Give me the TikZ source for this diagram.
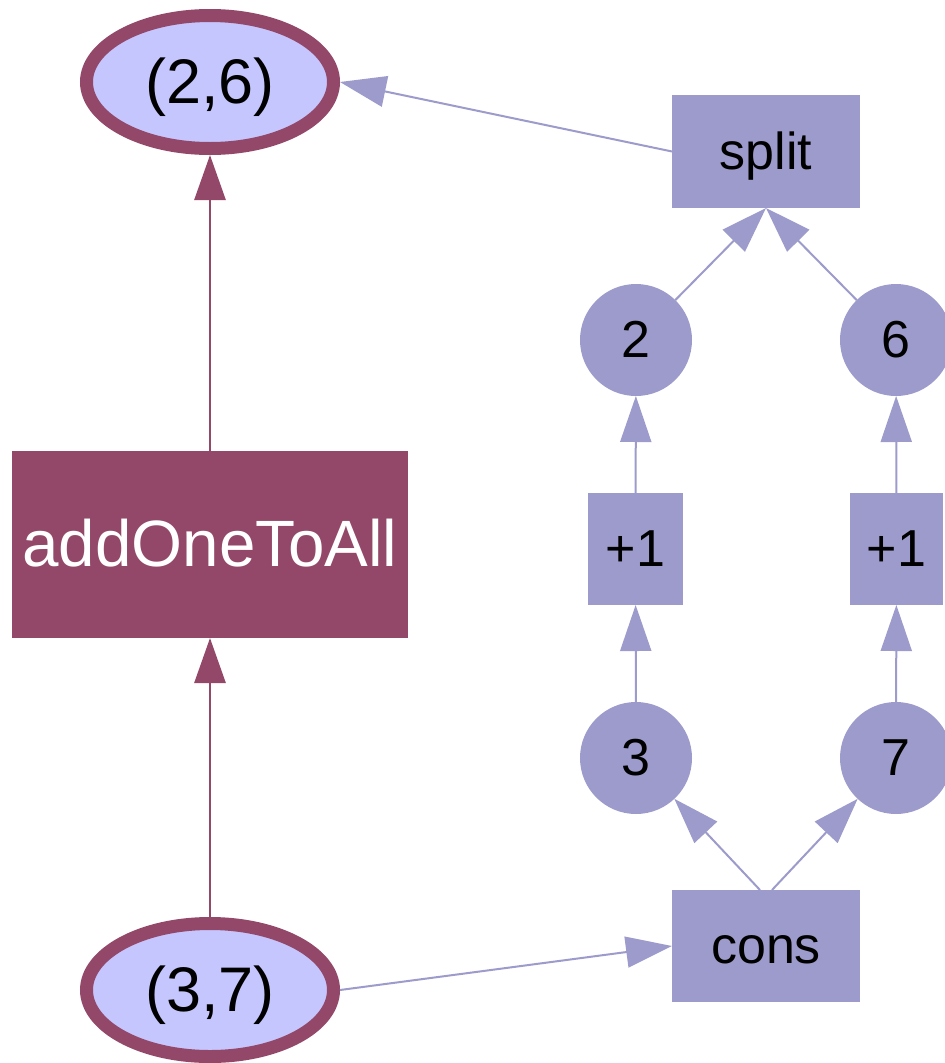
\documentclass[tikz,border=0pt]{standalone}
\usepackage{fontspec}
\setmainfont{Liberation Sans}
\usetikzlibrary{shapes.geometric,arrows.meta}

\definecolor{wine}{HTML}{944869}
\definecolor{paleblue}{HTML}{C5C6FD}
\definecolor{lavender}{HTML}{9C9BCB}

\tikzset{
  pairnode/.style={ellipse, draw=wine, line width=13pt, fill=paleblue,
    minimum width=247pt, minimum height=133pt, inner sep=0pt,
    font=\fontsize{63}{70}\selectfont, text height=56.7pt, text depth=13.9pt},
  opbox/.style={rectangle, fill=lavender, inner sep=0pt, outer sep=0pt,
    font=\fontsize{52}{60}\selectfont, text height=46.8pt, text depth=11.4pt},
  valnode/.style={circle, fill=lavender, inner sep=0pt, outer sep=0pt,
    minimum size=112pt,
    font=\fontsize{52}{60}\selectfont, text height=46.8pt, text depth=11.4pt},
  funbox/.style={rectangle, fill=wine, text=white, inner sep=0pt, outer sep=0pt,
    minimum width=396pt, minimum height=187pt,
    font=\fontsize{65.5}{72}\selectfont, text height=59pt, text depth=14.4pt},
  thickedge/.style={draw=wine, line width=2.8pt,
    -{Triangle[length=45pt,width=31pt]}},
  thinedge/.style={draw=lavender, line width=2pt,
    -{Triangle[length=46pt,width=31pt]}},
}

\begin{document}
\begin{tikzpicture}[x=1pt,y=-1pt]
\useasboundingbox (0,0) rectangle (945,1063);

% left column
\node[pairnode] (p26) at (210,82) {(2,6)};
\node[funbox] (add) at (210,544.5) {addOneToAll};
\node[pairnode] (p37) at (210,990) {(3,7)};

% right side
\node[opbox, minimum width=188pt, minimum height=113pt] (split) at (766,151.5) {split};
\node[valnode] (c2) at (636,340) {2};
\node[valnode] (c6) at (896,340) {6};
\node[opbox, minimum width=95pt, minimum height=112pt] (incl) at (635.5,549) {+1};
\node[opbox, minimum width=93pt, minimum height=112pt] (incr) at (896.5,549) {+1};
\node[valnode] (c3) at (636,758) {3};
\node[valnode] (c7) at (896,758) {7};
\node[opbox, minimum width=188pt, minimum height=112pt] (cons) at (766,946) {cons};

% connectors
\draw[thickedge] (add) -- (p26);
\draw[thickedge] (p37) -- (add);

\draw[thinedge] (split.west) -- (p26.east);
\draw[thinedge] (c2) -- (split.south);
\draw[thinedge] (c6) -- (split.south);
\draw[thinedge] (incl) -- (c2);
\draw[thinedge] (incr) -- (c6);
\draw[thinedge] (c3) -- (incl);
\draw[thinedge] (c7) -- (incr);
\draw[thinedge] ([xshift=-6pt]cons.north) -- (c3);
\draw[thinedge] ([xshift=6pt]cons.north) -- (c7);
\draw[thinedge] (p37.east) -- (cons.west);
\end{tikzpicture}
\end{document}
